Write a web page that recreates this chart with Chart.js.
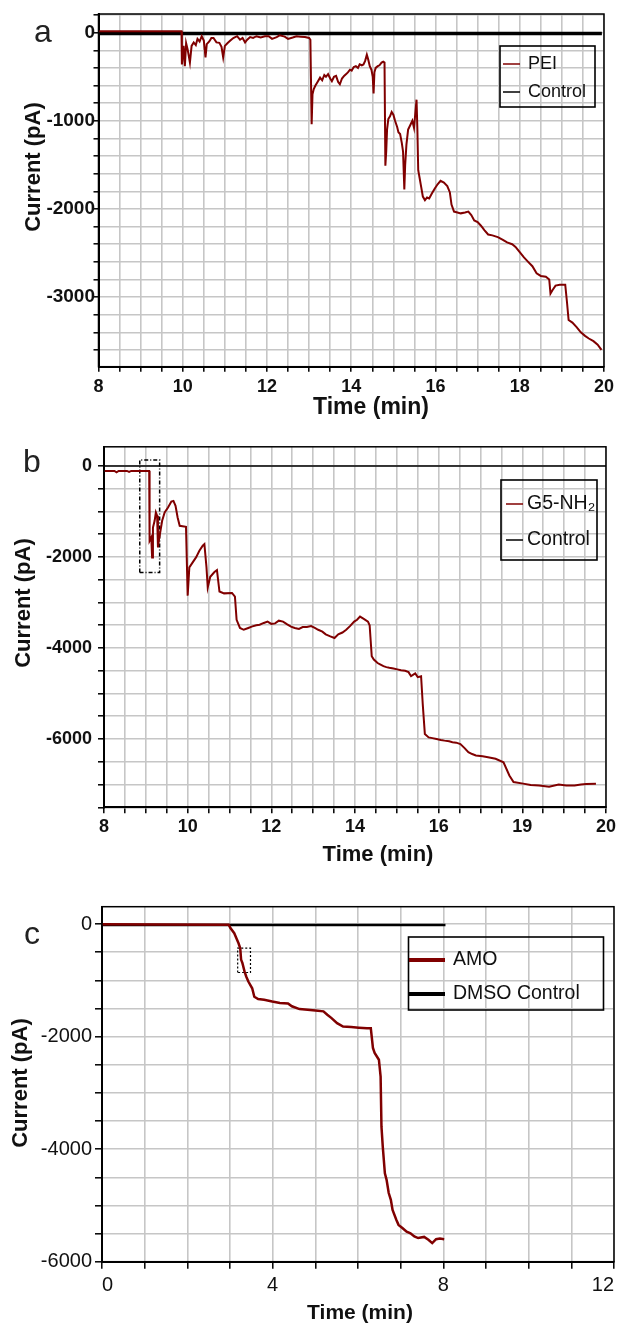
<!DOCTYPE html>
<html>
<head>
<meta charset="utf-8">
<script src="https://cdn.jsdelivr.net/npm/chart.js@4.4.1/dist/chart.umd.min.js"></script>
<style>
    html, body { margin: 0; padding: 0; background: #fff; width: 619px; height: 1326px; overflow: hidden; }
    canvas { position: absolute; left: 0; }
    #panelA { top: 0; }
    #panelB { top: 430px; }
    #panelC { top: 880px; }
</style>
</head>
<body>
<canvas id="panelA" width="619" height="430"></canvas>
<canvas id="panelB" width="619" height="450"></canvas>
<canvas id="panelC" width="619" height="446"></canvas>
<script>
// ---- Panel a: PEI vs control (time in min, current in pA)
const peiTime = [8.0, 9.97, 9.98, 10.02, 10.05, 10.08, 10.12, 10.17, 10.21, 10.26, 10.31, 10.35, 10.40, 10.45, 10.50, 10.54, 10.57, 10.63, 10.68, 10.73, 10.80, 10.87, 10.92, 10.96, 11.00, 11.06, 11.13, 11.20, 11.29, 11.36, 11.42, 11.48, 11.53, 11.60, 11.67, 11.75, 11.85, 11.95, 12.04, 12.12, 12.23, 12.30, 12.42, 12.50, 12.61, 12.70, 12.80, 12.90, 13.00, 13.03, 13.06, 13.08, 13.11, 13.15, 13.20, 13.26, 13.31, 13.36, 13.40, 13.45, 13.50, 13.54, 13.59, 13.64, 13.69, 13.73, 13.78, 13.83, 13.88, 13.92, 13.97, 14.01, 14.06, 14.11, 14.16, 14.20, 14.25, 14.29, 14.33, 14.37, 14.40, 14.44, 14.48, 14.51, 14.53, 14.55, 14.58, 14.63, 14.67, 14.72, 14.76, 14.79, 14.81, 14.83, 14.85, 14.88, 14.92, 14.96, 15.00, 15.04, 15.09, 15.12, 15.16, 15.20, 15.23, 15.26, 15.28, 15.31, 15.35, 15.40, 15.45, 15.49, 15.52, 15.55, 15.57, 15.59, 15.62, 15.66, 15.70, 15.75, 15.80, 15.85, 15.92, 15.98, 16.05, 16.12, 16.20, 16.28, 16.34, 16.38, 16.44, 16.52, 16.60, 16.70, 16.78, 16.85, 16.92, 17.00, 17.08, 17.16, 17.25, 17.35, 17.48, 17.60, 17.70, 17.82, 17.90, 18.00, 18.10, 18.20, 18.30, 18.40, 18.50, 18.62, 18.70, 18.73, 18.78, 18.85, 18.95, 19.08, 19.12, 19.16, 19.25, 19.35, 19.45, 19.55, 19.64, 19.75, 19.85, 19.94];
const peiCurrent = [15, 15, -360, -150, -380, -120, -200, -340, -150, -110, -140, -70, -100, -40, -90, -280, -130, -100, -60, -60, -110, -115, -160, -280, -150, -120, -90, -60, -40, -80, -60, -110, -80, -50, -60, -40, -55, -40, -40, -70, -50, -30, -45, -70, -55, -40, -45, -50, -60, -80, -1040, -700, -640, -600, -560, -510, -540, -480, -500, -470, -520, -550, -500, -490, -560, -585, -520, -490, -470, -450, -420, -430, -390, -380, -400, -360, -370, -360, -320, -250, -300, -380, -420, -500, -690, -450, -400, -380, -370, -340, -330, -340, -1510, -1350, -1100, -980, -950, -900, -930, -1000, -1070, -1130, -1150, -1250, -1350, -1780, -1500, -1270, -1100, -1050, -1000, -1080, -920, -760, -1100, -1560, -1640, -1750, -1860, -1900, -1870, -1880, -1820, -1770, -1720, -1680, -1700, -1740, -1810, -1950, -2030, -2040, -2050, -2040, -2030, -2070, -2130, -2150, -2190, -2240, -2290, -2300, -2320, -2350, -2380, -2400, -2430, -2490, -2550, -2600, -2650, -2730, -2760, -2770, -2800, -2960, -2920, -2870, -2860, -2860, -3050, -3260, -3290, -3340, -3400, -3440, -3470, -3500, -3540, -3600];
const controlATime = [8.0, 19.95];
const controlACurrent = [-10, -10];
const xTicksA = [8, 10, 12, 14, 16, 18, 20];
const xTickTextA = ['8', '10', '12', '14', '16', '18', '20'];
const yTicksA = [0, -1000, -2000, -3000];
const yTickTextA = ['0', '-1000', '-2000', '-3000'];

// ---- Panel b: G5-NH2 vs control
const g5Time = [8.00, 8.25, 8.30, 8.35, 8.55, 8.60, 8.65, 9.08, 9.09, 9.13, 9.15, 9.17, 9.21, 9.24, 9.27, 9.29, 9.31, 9.35, 9.39, 9.45, 9.53, 9.61, 9.66, 9.71, 9.76, 9.81, 9.96, 10.00, 10.04, 10.12, 10.20, 10.28, 10.36, 10.40, 10.45, 10.48, 10.54, 10.64, 10.70, 10.76, 10.87, 11.06, 11.13, 11.17, 11.25, 11.34, 11.45, 11.53, 11.64, 11.72, 11.82, 11.91, 12.00, 12.09, 12.18, 12.28, 12.38, 12.47, 12.56, 12.66, 12.75, 12.85, 12.95, 13.04, 13.12, 13.22, 13.30, 13.41, 13.51, 13.60, 13.70, 13.79, 13.88, 13.98, 14.05, 14.12, 14.21, 14.31, 14.35, 14.40, 14.45, 14.54, 14.60, 14.68, 14.75, 14.82, 14.92, 15.01, 15.10, 15.20, 15.28, 15.34, 15.44, 15.50, 15.58, 15.62, 15.67, 15.76, 15.85, 15.95, 16.05, 16.14, 16.25, 16.33, 16.42, 16.52, 16.62, 16.71, 16.80, 16.89, 17.05, 17.18, 17.36, 17.55, 17.69, 17.79, 18.02, 18.20, 18.40, 18.64, 18.87, 19.05, 19.25, 19.40, 19.53, 19.76];
const g5Current = [-110, -110, -140, -110, -110, -130, -110, -110, -1645, -1572, -2010, -1353, -1206, -1023, -1096, -1791, -1645, -1425, -1206, -1023, -914, -783, -768, -877, -1133, -1316, -1338, -2850, -2230, -2120, -2010, -1864, -1754, -1718, -2230, -2668, -2435, -2330, -2290, -2760, -2800, -2790, -2870, -3380, -3560, -3600, -3560, -3530, -3500, -3490, -3450, -3420, -3470, -3460, -3400, -3420, -3480, -3530, -3560, -3580, -3540, -3540, -3520, -3560, -3600, -3640, -3700, -3745, -3780, -3700, -3660, -3600, -3520, -3420, -3380, -3310, -3360, -3420, -3500, -4180, -4255, -4330, -4360, -4400, -4420, -4435, -4450, -4470, -4490, -4500, -4530, -4620, -4560, -4640, -4620, -5240, -5890, -5965, -5980, -6000, -6020, -6035, -6050, -6070, -6080, -6110, -6200, -6290, -6330, -6360, -6380, -6400, -6435, -6510, -6800, -6945, -6980, -7010, -7020, -7050, -7000, -7020, -7020, -7000, -6990, -6980];
const controlBTime = [8.0, 20.0];
const controlBCurrent = [0, 0];
const boxBTime = [8.855, 8.855, 9.33, 9.33, 8.855];
const boxBCurrent = [-2340, 132, 132, -2340, -2340];
const xTicksB = [8, 10, 12, 14, 16, 18, 20];
const xTickTextB = ['8', '10', '12', '14', '16', '19', '20'];
const yTicksB = [0, -2000, -4000, -6000];
const yTickTextB = ['0', '-2000', '-4000', '-6000'];

// ---- Panel c: AMO vs DMSO control
const amoTime = [0, 2.97, 3.01, 3.10, 3.15, 3.20, 3.24, 3.26, 3.29, 3.34, 3.38, 3.43, 3.52, 3.57, 3.66, 3.80, 3.99, 4.17, 4.36, 4.45, 4.63, 4.82, 5.00, 5.19, 5.28, 5.38, 5.51, 5.65, 5.84, 6.02, 6.21, 6.30, 6.35, 6.39, 6.49, 6.53, 6.55, 6.58, 6.63, 6.67, 6.72, 6.77, 6.81, 6.90, 6.95, 7.04, 7.14, 7.23, 7.32, 7.41, 7.55, 7.65, 7.74, 7.83, 7.92, 8.02];
const amoCurrent = [0, -10, -70, -160, -250, -340, -430, -630, -690, -840, -930, -1020, -1140, -1290, -1330, -1345, -1375, -1400, -1410, -1460, -1510, -1520, -1535, -1550, -1610, -1670, -1760, -1820, -1830, -1840, -1850, -1850, -2200, -2290, -2410, -2710, -3600, -3950, -4430, -4545, -4780, -4900, -5080, -5260, -5345, -5400, -5465, -5495, -5550, -5580, -5560, -5610, -5670, -5600, -5590, -5600];
const controlCTime = [0, 8.05];
const controlCCurrent = [-15, -15];
const boxCTime = [3.18, 3.18, 3.48, 3.48, 3.18];
const boxCCurrent = [-860, -426, -426, -860, -860];
const xTicksC = [0, 4, 8, 12];
const xTickTextC = ['0', '4', '8', '12'];
const yTicksC = [0, -2000, -4000, -6000];
const yTickTextC = ['0', '-2000', '-4000', '-6000'];

const RED = '#800000';
const FONT = "'Liberation Sans', Arial, sans-serif";

// Paare (x, y) für Chart.js zusammenbauen
const toPoints = (xs, ys) => xs.map((x, i) => ({ x: x, y: ys[i] }));

// Tick-Beschriftung nur an den Stellen aus den Listen
const labelFor = (values, texts) => v => {
    const i = values.findIndex(t => Math.abs(t - v) < 1e-6);
    return i < 0 ? '' : texts[i];
};

// Gitter exakt auf Vielfachen der Schrittweite (Chart.js verteilt sonst min..max gleichmäßig)
const gridOnSteps = step => scale => {
    const out = [];
    for (let k = Math.ceil(scale.min / step - 1e-9); k * step <= scale.max + 1e-9; k++) {
        out.push({ value: Math.round(k * step * 1000) / 1000 });
    }
    scale.ticks = out;
};

// Rahmen um die Plotfläche
const framePlugin = {
    id: 'frame',
    afterDatasetsDraw(chart) {
        const a = chart.chartArea;
        const ctx = chart.ctx;
        ctx.save();
        ctx.strokeStyle = '#000';
        ctx.lineWidth = 1.5;
        ctx.strokeRect(a.left, a.top, a.right - a.left, a.bottom - a.top);
        ctx.restore();
    }
};

// Panelbuchstabe, Achsentitel und Legendenkasten
const decorPlugin = {
    id: 'panelDecor',
    afterDraw(chart, args, o) {
        const ctx = chart.ctx;
        ctx.save();
        ctx.fillStyle = '#222';
        ctx.textAlign = 'center';
        ctx.textBaseline = 'middle';
        ctx.font = `32px ${FONT}`;
        ctx.fillText(o.letter, o.letterPos[0], o.letterPos[1]);

        ctx.fillStyle = '#111';
        ctx.font = `bold ${o.xTitleSize}px ${FONT}`;
        ctx.fillText('Time (min)', o.xTitlePos[0], o.xTitlePos[1]);

        ctx.save();
        ctx.translate(o.yTitlePos[0], o.yTitlePos[1]);
        ctx.rotate(-Math.PI / 2);
        ctx.font = `bold 22px ${FONT}`;
        ctx.fillText('Current (pA)', 0, 0);
        ctx.restore();

        const b = o.legendBox;
        ctx.strokeStyle = '#000';
        ctx.lineWidth = 1.6;
        ctx.strokeRect(b[0], b[1], b[2] - b[0], b[3] - b[1]);
        ctx.textAlign = 'left';
        ctx.font = `${o.legendFont}px ${FONT}`;
        o.legendItems.forEach(item => {
            const ds = chart.data.datasets[item.ds];
            ctx.strokeStyle = ds.borderColor;
            ctx.lineWidth = o.sampleWidth;
            ctx.beginPath();
            ctx.moveTo(o.sampleX[0], item.y);
            ctx.lineTo(o.sampleX[1], item.y);
            ctx.stroke();
            ctx.fillStyle = '#111';
            ctx.fillText(ds.label, o.textX, item.y);
        });
        ctx.restore();
    }
};

function buildPanel(canvasId, p) {
    const axisGrid = { color: '#c6c6c6', lineWidth: 1.6, tickColor: '#000', tickWidth: 1.5, tickLength: p.tickLength };
    return new Chart(document.getElementById(canvasId), {
        type: 'line',
        data: { datasets: p.datasets },
        options: {
            responsive: false,
            animation: false,
            layout: { padding: p.padding },
            elements: { point: { radius: 0 }, line: { tension: 0 } },
            plugins: {
                legend: { display: false },
                tooltip: { enabled: false },
                panelDecor: p.decor
            },
            scales: {
                x: {
                    type: 'linear',
                    min: p.xMin, max: p.xMax,
                    afterBuildTicks: gridOnSteps(p.xStep),
                    afterFit: s => { s.height = p.xHeight; },
                    grid: axisGrid,
                    border: { color: '#000', width: 2 },
                    ticks: {
                        autoSkip: false, maxRotation: 0, align: p.xAlign,
                        padding: p.xPad, color: '#111',
                        font: { family: FONT, size: p.tickFont, weight: p.tickWeight },
                        callback: labelFor(p.xTicks, p.xTickText)
                    }
                },
                y: {
                    type: 'linear',
                    min: p.yMin, max: p.yMax,
                    afterBuildTicks: gridOnSteps(p.yStep),
                    afterFit: s => { s.width = p.yWidth; },
                    grid: axisGrid,
                    border: { color: '#000', width: 2 },
                    ticks: {
                        autoSkip: false, padding: p.yPad, color: '#111',
                        font: { family: FONT, size: p.yTickFont, weight: p.tickWeight },
                        callback: labelFor(p.yTicks, p.yTickText)
                    }
                }
            }
        },
        plugins: [framePlugin, decorPlugin]
    });
}

buildPanel('panelA', {
    datasets: [
        { label: 'PEI', data: toPoints(peiTime, peiCurrent), borderColor: RED, borderWidth: 2 },
        { label: 'Control', data: toPoints(controlATime, controlACurrent), borderColor: '#000', borderWidth: 3.5 }
    ],
    padding: { left: 0, top: 14, right: 13, bottom: 0 },
    xMin: 8, xMax: 20, xStep: 0.5, xHeight: 63.3, xPad: 5, xAlign: 'center',
    yMin: -3790, yMax: 212, yStep: 200, yWidth: 98.5, yPad: -1.5,
    tickLength: 5, tickFont: 18, yTickFont: 19, tickWeight: 'bold',
    xTicks: xTicksA, xTickText: xTickTextA, yTicks: yTicksA, yTickText: yTickTextA,
    decor: {
        letter: 'a', letterPos: [43, 33],
        xTitlePos: [371, 408], xTitleSize: 23, yTitlePos: [34, 167],
        legendBox: [500, 46, 595, 107], legendFont: 18, sampleWidth: 1.5,
        sampleX: [503, 520], textX: 528,
        legendItems: [{ ds: 0, y: 64 }, { ds: 1, y: 92 }]
    }
});

buildPanel('panelB', {
    datasets: [
        { label: 'G5-NH₂', data: toPoints(g5Time, g5Current), borderColor: RED, borderWidth: 2 },
        { label: 'Control', data: toPoints(controlBTime, controlBCurrent), borderColor: '#000', borderWidth: 1.5 },
        { label: 'box', data: toPoints(boxBTime, boxBCurrent), borderColor: '#000', borderWidth: 1.5, borderDash: [4, 2, 1, 2] }
    ],
    padding: { left: 0, top: 16, right: 10, bottom: 0 },
    xMin: 8, xMax: 20, xStep: 0.5, xHeight: 72.7, xPad: 3, xAlign: 'center',
    yMin: -7500, yMax: 420, yStep: 500, yWidth: 104, yPad: 6,
    tickLength: 6, tickFont: 18, yTickFont: 18, tickWeight: 'bold',
    xTicks: xTicksB, xTickText: xTickTextB, yTicks: yTicksB, yTickText: yTickTextB,
    decor: {
        letter: 'b', letterPos: [32, 33],
        xTitlePos: [378, 425], xTitleSize: 22, yTitlePos: [24, 173],
        legendBox: [501, 50, 597, 130], legendFont: 19.5, sampleWidth: 1.5,
        sampleX: [506, 523], textX: 527,
        legendItems: [{ ds: 0, y: 74 }, { ds: 1, y: 110 }]
    }
});

buildPanel('panelC', {
    datasets: [
        { label: 'AMO', data: toPoints(amoTime, amoCurrent), borderColor: RED, borderWidth: 2.5 },
        { label: 'DMSO Control', data: toPoints(controlCTime, controlCCurrent), borderColor: '#000', borderWidth: 2.5 },
        { label: 'box', data: toPoints(boxCTime, boxCCurrent), borderColor: '#000', borderWidth: 1.2, borderDash: [2, 2] }
    ],
    padding: { left: 0, top: 26.7, right: 4, bottom: 0 },
    xMin: 0, xMax: 12, xStep: 1, xHeight: 64.3, xPad: 5, xAlign: 'inner',
    yMin: -6000, yMax: 310, yStep: 500, yWidth: 102, yPad: 3,
    tickLength: 7, tickFont: 20, yTickFont: 20, tickWeight: 'normal',
    xTicks: xTicksC, xTickText: xTickTextC, yTicks: yTicksC, yTickText: yTickTextC,
    decor: {
        letter: 'c', letterPos: [32, 55],
        xTitlePos: [360, 433], xTitleSize: 21, yTitlePos: [21, 203],
        legendBox: [408.5, 57, 603.5, 130], legendFont: 19.5, sampleWidth: 4,
        sampleX: [409, 445], textX: 453,
        legendItems: [{ ds: 0, y: 80 }, { ds: 1, y: 114 }]
    }
});
</script>
</body>
</html>
